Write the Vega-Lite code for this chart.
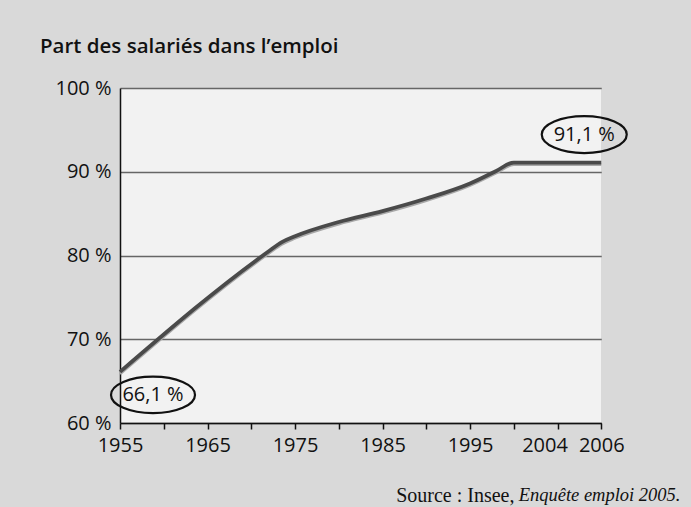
{
  "$schema": "https://vega.github.io/schema/vega-lite/v6.json",
  "width": 481,
  "height": 335,
  "autosize": "none",
  "padding": {"left": 120, "top": 88, "right": 90, "bottom": 84},
  "background": "#d9d9d9",
  "config": {"view": {"fill": "#f2f2f2", "stroke": null}, "font": "Open Sans"},
  "title": {"text": "Part des salariés dans l’emploi", "anchor": "start", "frame": "group", "dx": -80, "offset": 5, "baseline": "alphabetic", "fontSize": 20.5, "fontWeight": 600, "color": "#111", "font": "Open Sans"},
  "data": {"values": [
    {"year": 1955, "value": 66.1, "label": "66,1 %"},
    {"year": 1972, "value": 80.5},
    {"year": 1973.5, "value": 81.6},
    {"year": 1975, "value": 82.3},
    {"year": 1980, "value": 84.0},
    {"year": 1985, "value": 85.3},
    {"year": 1990, "value": 86.8},
    {"year": 1995, "value": 88.6},
    {"year": 1998, "value": 90.1},
    {"year": 2000, "value": 91.1},
    {"year": 2006, "value": 91.1, "label": "91,1 %"}
  ]},
  "encoding": {
    "x": {
      "field": "year", "type": "quantitative",
      "scale": {"domain": [1955, 2000, 2004, 2006], "range": [0, 393.75, 437.5, 481.25], "nice": false, "zero": false},
      "axis": {
        "values": [1955, 1960, 1965, 1970, 1975, 1980, 1985, 1990, 1995, 2000, 2004, 2006],
        "format": "d",
        "labelExpr": "indexof([1955, 1965, 1975, 1985, 1995, 2004, 2006], datum.value) >= 0 ? datum.label : ''",
        "grid": false,
        "domainColor": "#111", "domainWidth": 1.5,
        "tickColor": "#111", "tickWidth": 1.5, "tickSize": 6,
        "labelFontSize": 20, "labelColor": "#111", "labelPadding": 6,
        "labelFlush": false, "labelOverlap": false,
        "labelOffset": {"condition": {"test": "datum.value == 2004", "value": -13}, "value": 0},
        "title": "Source : Insee,",
        "titleX": 394, "titleY": 78, "titleAlign": "right", "titleBaseline": "alphabetic",
        "titleFont": "Liberation Serif", "titleFontSize": 20, "titleFontWeight": "normal", "titleColor": "#111"
      }
    }
  },
  "layer": [
    {
      "mark": {"type": "line", "color": "#a8a8a8", "strokeWidth": 3, "yOffset": 2, "interpolate": "monotone"},
      "encoding": {
        "y": {
          "field": "value", "type": "quantitative",
          "scale": {"domain": [60, 100], "nice": false, "zero": false},
          "axis": {
            "orient": "right", "labels": false, "ticks": false, "domain": false, "grid": false,
            "title": "Enquête emploi 2005.", "titleAngle": 0, "titleX": 79, "titleY": 412,
            "titleAlign": "right", "titleBaseline": "alphabetic",
            "titleFont": "Liberation Serif", "titleFontStyle": "italic", "titleFontWeight": "normal", "titleFontSize": 18.5, "titleColor": "#111"
          }
        }
      }
    },
    {
      "encoding": {
        "y": {
          "field": "value", "type": "quantitative",
          "scale": {"domain": [60, 100], "nice": false, "zero": false},
          "axis": {
            "orient": "left", "values": [60, 70, 80, 90, 100],
            "labelExpr": "datum.value + ' %'",
            "ticks": false, "domainColor": "#111", "domainWidth": 1.5,
            "grid": true, "gridColor": "#666", "gridWidth": 1.5,
            "labelFontSize": 20, "labelColor": "#111", "labelPadding": 9,
            "labelFlush": false, "labelBaseline": "middle", "title": null
          }
        }
      },
      "layer": [
        {"mark": {"type": "line", "color": "#4a4a4a", "strokeWidth": 3.8, "interpolate": "monotone"}},
        {
          "transform": [{"filter": "datum.year == 1955"}],
          "mark": {"type": "point", "shape": "M -1 0 C -1 -0.24 -0.5523 -0.435 0 -0.435 C 0.5523 -0.435 1 -0.24 1 0 C 1 0.24 0.5523 0.435 0 0.435 C -0.5523 0.435 -1 0.24 -1 0 Z", "size": 7056, "filled": false, "stroke": "#111", "strokeWidth": 2.2, "opacity": 1, "xOffset": 33, "yOffset": 23}
        },
        {
          "transform": [{"filter": "datum.year == 1955"}],
          "mark": {"type": "text", "fontSize": 20, "color": "#111", "xOffset": 33, "yOffset": 23, "baseline": "middle"},
          "encoding": {"text": {"field": "label"}}
        },
        {
          "transform": [{"filter": "datum.year == 2006"}],
          "mark": {"type": "point", "shape": "M -1 0 C -1 -0.24 -0.5523 -0.435 0 -0.435 C 0.5523 -0.435 1 -0.24 1 0 C 1 0.24 0.5523 0.435 0 0.435 C -0.5523 0.435 -1 0.24 -1 0 Z", "size": 7225, "filled": false, "stroke": "#111", "strokeWidth": 2.2, "opacity": 1, "xOffset": -17, "yOffset": -28}
        },
        {
          "transform": [{"filter": "datum.year == 2006"}],
          "mark": {"type": "text", "fontSize": 20, "color": "#111", "xOffset": -17, "yOffset": -28, "baseline": "middle"},
          "encoding": {"text": {"field": "label"}}
        }
      ]
    }
  ],
  "resolve": {"scale": {"y": "independent"}}
}
